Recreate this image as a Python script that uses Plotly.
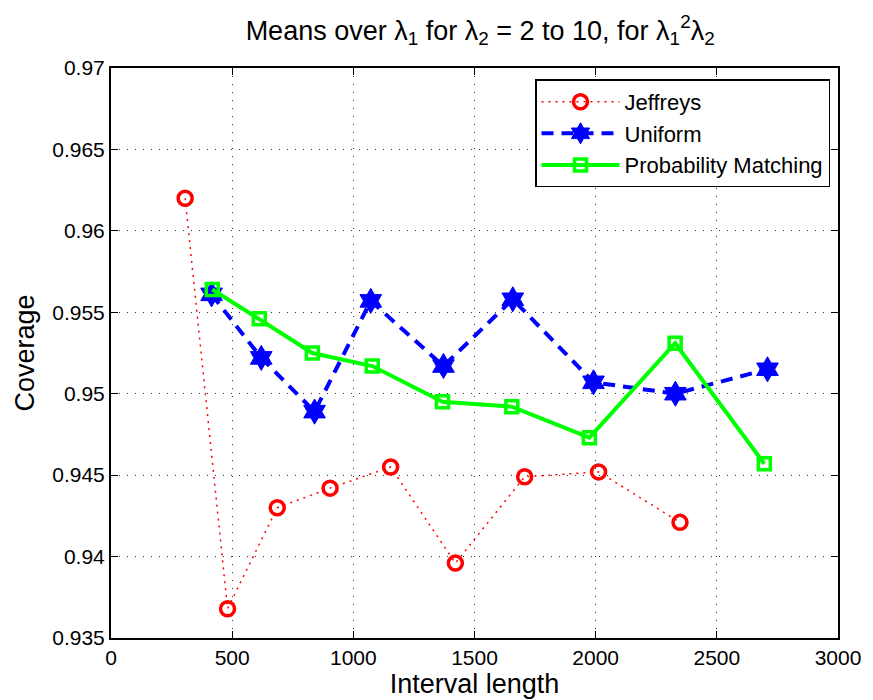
import plotly.graph_objects as go

jeff_x = [306, 481, 686, 904, 1154, 1421, 1707, 2012, 2348]
jeff_y = [0.9620, 0.9368, 0.9430, 0.9442, 0.9455, 0.9396, 0.9449, 0.9452, 0.9421]

unif_x = [415, 620, 840, 1072, 1372, 1658, 1991, 2329, 2709]
unif_y = [0.9561, 0.9522, 0.9489, 0.9557, 0.9517, 0.9558, 0.9507, 0.9500, 0.9515]

pm_x = [418, 612, 831, 1078, 1368, 1654, 1974, 2328, 2696]
pm_y = [0.9564, 0.9546, 0.9525, 0.9517, 0.9495, 0.9492, 0.9473, 0.9531, 0.9457]

x_ticks = [0, 500, 1000, 1500, 2000, 2500, 3000]
y_ticks = [0.935, 0.94, 0.945, 0.95, 0.955, 0.96, 0.965, 0.97]
y_ticktext = ["0.935", "0.94", "0.945", "0.95", "0.955", "0.96", "0.965", "0.97"]

FONT = "Liberation Sans, Arial, sans-serif"

fig = go.Figure()
fig.add_trace(go.Scatter(
    x=jeff_x, y=jeff_y, name="Jeffreys", mode="lines+markers",
    line=dict(color="#ff0000", width=1.5, dash="2px,5px"),
    marker=dict(symbol="circle-open", size=14, color="#ff0000", line=dict(width=3.5, color="#ff0000")),
))
fig.add_trace(go.Scatter(
    x=unif_x, y=unif_y, name="Uniform", mode="lines+markers",
    line=dict(color="#0000ff", width=4, dash="12px,8px"),
    marker=dict(symbol="hexagram", size=19, color="#0000ff", line=dict(width=1, color="#0000ff")),
))
fig.add_trace(go.Scatter(
    x=pm_x, y=pm_y, name="Probability Matching", mode="lines+markers",
    line=dict(color="#00ff00", width=4),
    marker=dict(symbol="square-open", size=12, color="#00ff00", line=dict(width=3.5, color="#00ff00")),
))

axis_common = dict(
    showline=True, linecolor="black", linewidth=2, mirror="ticks",
    ticks="inside", ticklen=7, tickcolor="black", tickwidth=1,
    showgrid=True, gridcolor="rgba(0,0,0,0.8)", griddash="1px,7px", gridwidth=1,
    zeroline=False, tickfont=dict(size=21, color="black", family=FONT),
)

fig.update_layout(
    width=873, height=700,
    margin=dict(l=111, r=28, t=68, b=61),
    paper_bgcolor="white", plot_bgcolor="white",
    font=dict(family=FONT, color="black"),
    title=dict(
        text="Means over λ<sub>1</sub> for λ<sub>2</sub> = 2 to 10, for λ<sub>1</sub><sup>2</sup>λ<sub>2</sub>",
        x=0.55, xanchor="center", y=0.957, yanchor="middle",
        font=dict(size=27, color="black", family=FONT),
    ),
    xaxis=dict(range=[0, 3000], tickvals=x_ticks, ticktext=[str(v) for v in x_ticks],
               title=dict(text="Interval length", font=dict(size=27, family=FONT), standoff=0),
               **axis_common),
    yaxis=dict(range=[0.935, 0.97], tickvals=y_ticks, ticktext=y_ticktext,
               title=dict(text="Coverage", font=dict(size=27, family=FONT), standoff=10),
               **axis_common),
    legend=dict(
        x=0.989, xanchor="right", y=0.98, yanchor="top",
        bgcolor="white", bordercolor="black", borderwidth=1.5,
        font=dict(size=22, color="black", family=FONT),
        itemwidth=78, tracegroupgap=0,
    ),
)

fig.write_html("out.html")
